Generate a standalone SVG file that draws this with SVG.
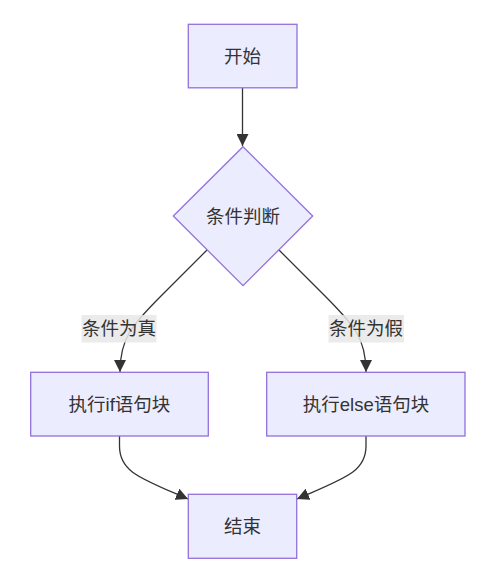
<svg xmlns="http://www.w3.org/2000/svg" width="491" height="580" viewBox="0 0 491 580">
<style>
.node rect, .node polygon { fill: #ECECFF; stroke: #9370DB; stroke-width: 1.3; }
.node text, .lbl text { font-family: "Liberation Sans", "Noto Sans CJK SC", sans-serif; font-size: 18.5px; fill: #333; text-anchor: middle; dominant-baseline: central; }
.edge { fill: none; stroke: #333; stroke-width: 1.3; }
.lbl rect { fill: #E8E8E8; fill-opacity: 0.85; }
</style>
<defs>
<marker id="arr" markerUnits="userSpaceOnUse" markerWidth="12" markerHeight="12" viewBox="0 0 10 10" refX="10" refY="5" orient="auto">
<path d="M0,0 L10,5 L0,10 z" fill="#333"/>
</marker>
</defs>
<rect width="491" height="580" fill="#fff"/>
<g id="connectors">
<path class="edge" d="M242.5,88 L242.5,146" marker-end="url(#arr)"/>
<path class="edge" d="M207,250 L162,295 C132,325 120,338 120,372" marker-end="url(#arr)"/>
<path class="edge" d="M279,250 L324,295 C354,325 366,338 366,372" marker-end="url(#arr)"/>
<path class="edge" d="M119.5,436 L119.5,446 C119.5,472 140,478 188,499" marker-end="url(#arr)"/>
<path class="edge" d="M366,436 L366,446 C366,472 345,478 297,499" marker-end="url(#arr)"/>
</g>
<g id="label-true" class="lbl">
<rect x="81.5" y="315" width="75" height="27.5"/>
<text x="119" y="328.5">条件为真</text>
</g>
<g id="label-false" class="lbl">
<rect x="328.5" y="315" width="75.5" height="27.5"/>
<text x="366" y="328.5">条件为假</text>
</g>
<g id="start" class="node">
<rect x="188.3" y="24.3" width="108.7" height="63.5"/>
<text x="242.5" y="56">开始</text>
</g>
<g id="cond" class="node">
<polygon points="243,146.7 312.7,216 243,285.7 173.3,216"/>
<text x="243" y="216">条件判断</text>
</g>
<g id="ifblock" class="node">
<rect x="30.7" y="372.3" width="177.6" height="63.7"/>
<text x="119.5" y="404">执行if语句块</text>
</g>
<g id="elseblock" class="node">
<rect x="266.7" y="372.3" width="198.3" height="63.7"/>
<text x="366" y="404">执行else语句块</text>
</g>
<g id="end" class="node">
<rect x="188.3" y="494.3" width="108.4" height="64"/>
<text x="242.5" y="526">结束</text>
</g>
</svg>
